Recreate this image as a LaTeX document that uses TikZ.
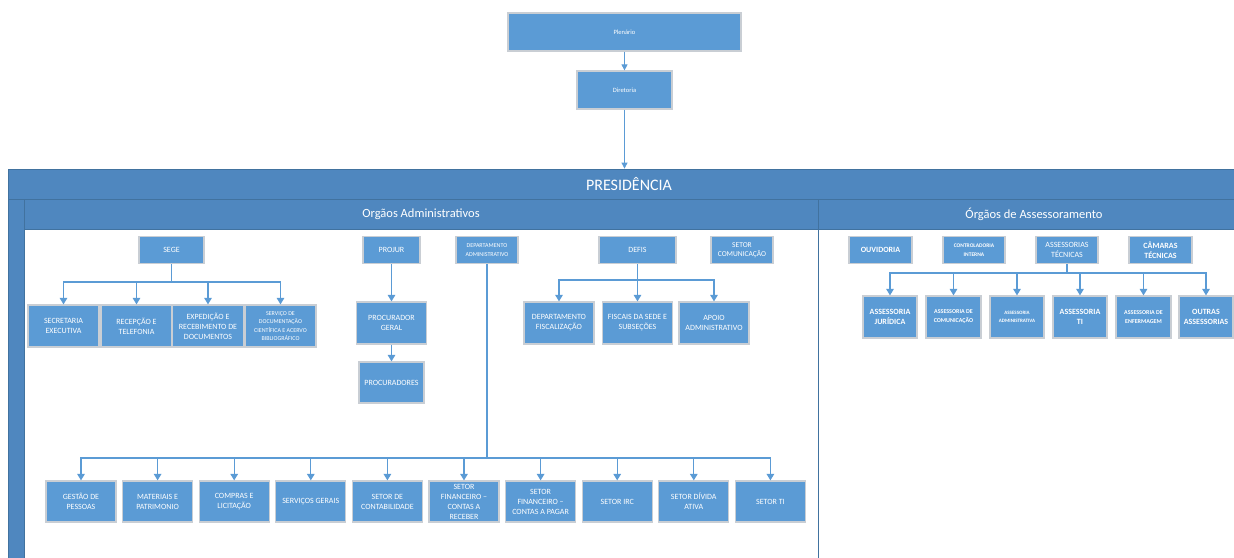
\documentclass[tikz,border=0pt]{standalone}
\usepackage{fontspec}
\setmainfont{Carlito}
\usetikzlibrary{arrows.meta}
\definecolor{boxblue}{HTML}{5B9BD5}
\definecolor{headblue}{HTML}{4F87BF}
\definecolor{headline}{HTML}{41729F}
\definecolor{boxline}{HTML}{C9CED4}
\begin{document}
\begin{tikzpicture}[x=1pt,y=-1pt,
 box/.style={draw=boxline,line width=1.2pt,fill=boxblue,text=white,inner sep=0pt,align=center,font=\fontsize{8}{10}\selectfont},
 head/.style={draw=headline,line width=0.8pt,fill=headblue,text=white,inner sep=0pt},
 conn/.style={draw=boxblue,line width=1.3pt,-{Triangle[width=7.5pt,length=6.5pt]}},
 stem/.style={draw=boxblue,line width=1.3pt}]
 \useasboundingbox (0,0) rectangle (1234,557);
 \clip (0,0) rectangle (1234,557);
 \node[box,minimum width=233pt,minimum height=38pt,font=\fontsize{6.5}{8}\selectfont] (plen) at (624.5,32) {Plenário};
 \node[box,minimum width=95pt,minimum height=38pt,font=\fontsize{6.5}{8}\selectfont] (dir) at (624.5,90) {Diretoria};
 \node[head,minimum width=1242pt,minimum height=30pt,font=\fontsize{16}{18}\selectfont] (pres) at (629,184) {PRESIDÊNCIA};
 \draw[head] (8,199) rectangle (24,570);
 \node[head,minimum width=794pt,minimum height=30pt,font=\fontsize{12.5}{14}\selectfont] (adm) at (421,214) {Orgãos Administrativos};
 \node[head,minimum width=432pt,minimum height=30pt,font=\fontsize{12.5}{14}\selectfont] (ass) at (1034,214) {Órgãos de Assessoramento};
 \draw[headline,line width=0.8pt] (818,229) -- (818,570);
 \draw[conn,line width=0.8pt,-{Triangle[width=6pt,length=6pt]}] (plen) -- (dir);
 \draw[conn,line width=0.8pt,-{Triangle[width=6pt,length=6pt]}] (dir) -- (dir.south |- pres.north);
 \node[box,minimum width=65pt,minimum height=27pt] (sege) at (171.5,250) {SEGE};
 \node[box,minimum width=71pt,minimum height=42pt] (sec) at (63.5,326) {SECRETARIA\\EXECUTIVA};
 \node[box,minimum width=71pt,minimum height=42pt] (rec) at (136.5,326) {RECEPÇÃO E\\TELEFONIA};
 \node[box,minimum width=71pt,minimum height=42pt] (exp) at (208,326) {EXPEDIÇÃO E\\RECEBIMENTO DE\\DOCUMENTOS};
 \node[box,minimum width=71pt,minimum height=42pt,font=\fontsize{6}{8.5}\selectfont] (sdoc) at (280.5,326) {SERVIÇO DE\\DOCUMENTAÇÃO\\CIENTÍFICA E ACERVO\\BIBLIOGRÁFICO};
 \coordinate (segebr) at (171.5,282);
 \draw[stem] (sege) -- (segebr);
 \foreach \n in {sec,rec,exp,sdoc}
  \draw[conn] (segebr) -| (\n);
 \node[box,minimum width=57pt,minimum height=27pt] (proj) at (391.5,250) {PROJUR};
 \node[box,minimum width=70pt,minimum height=42pt] (pger) at (391.5,323) {PROCURADOR\\GERAL};
 \node[box,minimum width=65pt,minimum height=41pt] (procs) at (391.5,382.5) {PROCURADORES};
 \draw[conn] (proj) -- (pger);
 \draw[conn] (pger) -- (procs);
 \node[box,minimum width=62pt,minimum height=27pt,font=\fontsize{6}{8.5}\selectfont] (dadm) at (487,250) {DEPARTAMENTO\\ADMINISTRATIVO};
 \node[box,minimum width=77pt,minimum height=27pt] (defis) at (637.5,250) {DEFIS};
 \node[box,minimum width=70pt,minimum height=42pt] (dfisc) at (559,323) {DEPARTAMENTO\\FISCALIZAÇÃO};
 \node[box,minimum width=70pt,minimum height=42pt] (fisc) at (637.5,323) {FISCAIS DA SEDE E\\SUBSEÇÕES};
 \node[box,minimum width=70pt,minimum height=42pt] (apoio) at (714,323) {APOIO\\ADMINISTRATIVO};
 \coordinate (defbr) at (637.5,280);
 \draw[stem] (defis) -- (defbr);
 \foreach \n in {dfisc,fisc,apoio}
  \draw[conn] (defbr) -| (\n);
 \node[box,minimum width=62pt,minimum height=27pt,font=\fontsize{7.5}{9}\selectfont] (scom) at (742,250) {SETOR\\COMUNICAÇÃO};
 \node[box,minimum width=63pt,minimum height=27pt,font=\bfseries\fontsize{8}{10}\selectfont] (ouv) at (880.5,250) {OUVIDORIA};
 \node[box,minimum width=62pt,minimum height=27pt,font=\bfseries\fontsize{5.5}{8.5}\selectfont] (ctrl) at (974,250) {CONTROLADORIA\\INTERNA};
 \node[box,minimum width=62pt,minimum height=27pt] (asst) at (1067,250) {ASSESSORIAS\\TÉCNICAS};
 \node[box,minimum width=63pt,minimum height=27pt,font=\bfseries\fontsize{8}{10}\selectfont] (cam) at (1160.5,250) {CÂMARAS\\TÉCNICAS};
 \node[box,minimum width=54pt,minimum height=42pt,font=\bfseries\fontsize{8}{10}\selectfont] (ajur) at (890,317) {ASSESSORIA\\JURÍDICA};
 \node[box,minimum width=55pt,minimum height=42pt,font=\bfseries\fontsize{6}{9}\selectfont] (acom) at (953.5,317) {ASSESSORIA DE\\COMUNICAÇÃO};
 \node[box,minimum width=54pt,minimum height=42pt,font=\bfseries\fontsize{5}{8}\selectfont] (aadm) at (1017,317) {ASSESSORIA\\ADMINISTRATIVA};
 \node[box,minimum width=54pt,minimum height=42pt,font=\bfseries\fontsize{8}{10}\selectfont] (ati) at (1080,317) {ASSESSORIA\\TI};
 \node[box,minimum width=55pt,minimum height=42pt,font=\bfseries\fontsize{6}{9}\selectfont] (aenf) at (1143.5,317) {ASSESSORIA DE\\ENFERMAGEM};
 \node[box,minimum width=54pt,minimum height=42pt,font=\bfseries\fontsize{8}{10}\selectfont] (aout) at (1206,317) {OUTRAS\\ASSESSORIAS};
 \coordinate (asbr) at (1067,273);
 \draw[stem] (asst) -- (asbr);
 \foreach \n in {ajur,acom,aadm,ati,aenf,aout}
  \draw[conn] (asbr) -| (\n);
 \foreach \t [count=\i] in {{GESTÃO DE\\PESSOAS},{MATERIAIS E\\PATRIMONIO},{COMPRAS E\\LICITAÇÃO},{SERVIÇOS GERAIS},{SETOR DE\\CONTABILIDADE},{SETOR\\FINANCEIRO –\\CONTAS A\\RECEBER},{SETOR\\FINANCEIRO –\\CONTAS A PAGAR},{SETOR IRC},{SETOR DÍVIDA\\ATIVA},{SETOR TI}}
  \node[box,minimum width=70pt,minimum height=41pt] (b\i) at ({81+76.6*(\i-1)},501.5) {\t};
 \coordinate (dabr) at (487,458);
 \draw[stem] (dadm) -- (dabr);
 \foreach \i in {1,...,10}
  \draw[conn] (dabr) -| (b\i);
\end{tikzpicture}
\end{document}
